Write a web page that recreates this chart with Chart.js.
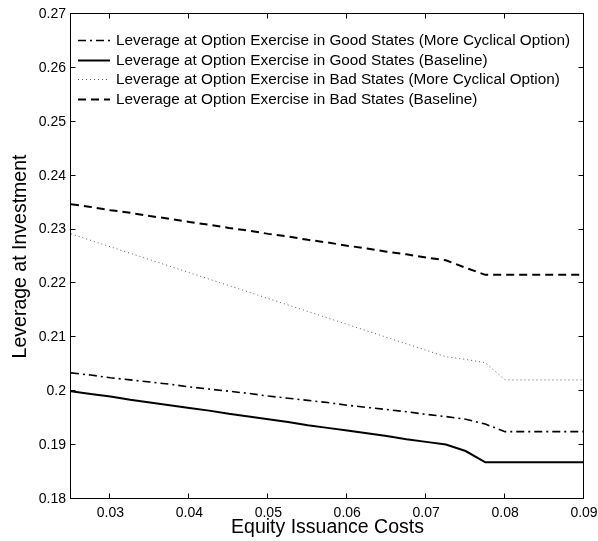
<!DOCTYPE html>
<html>
<head>
<meta charset="utf-8">
<script src="https://cdn.jsdelivr.net/npm/chart.js@4.4.1/dist/chart.umd.min.js"></script>
<style>
  html, body { margin: 0; padding: 0; background: #ffffff; }
  #wrap { width: 598px; height: 541px; }
</style>
</head>
<body>
<div id="wrap"><canvas id="c" width="598" height="541"></canvas></div>
<script>
// Equity issuance cost grid
const costs = [0.025, 0.0275, 0.03, 0.0325, 0.035, 0.0375, 0.04, 0.0425, 0.045, 0.0475,
               0.05, 0.0525, 0.055, 0.0575, 0.06, 0.0625, 0.065, 0.0675, 0.07, 0.0725,
               0.075, 0.0775, 0.08, 0.0825, 0.085, 0.0875, 0.09];

// Leverage at option exercise, good states, more cyclical option
const goodCyclical = [0.2034, 0.2030, 0.2025, 0.2021, 0.2017, 0.2013, 0.2008, 0.2004, 0.2000, 0.1996,
                      0.1991, 0.1987, 0.1983, 0.1979, 0.1974, 0.1970, 0.1966, 0.1962, 0.1957, 0.1953,
                      0.1948, 0.1939, 0.1925, 0.1925, 0.1925, 0.1925, 0.1925];
// Leverage at option exercise, good states, baseline
const goodBaseline = [0.2000, 0.1995, 0.1990, 0.1984, 0.1979, 0.1974, 0.1969, 0.1964, 0.1958, 0.1953,
                      0.1948, 0.1943, 0.1937, 0.1932, 0.1927, 0.1922, 0.1917, 0.1911, 0.1906, 0.1901,
                      0.1889, 0.1868, 0.1868, 0.1868, 0.1868, 0.1868, 0.1868];
// Leverage at option exercise, bad states, more cyclical option
const badCyclical = [0.2292, 0.2280, 0.2268, 0.2256, 0.2244, 0.2232, 0.2220, 0.2208, 0.2196, 0.2184,
                     0.2172, 0.2160, 0.2148, 0.2136, 0.2124, 0.2112, 0.2100, 0.2088, 0.2076, 0.2064,
                     0.2059, 0.2053, 0.2021, 0.2021, 0.2021, 0.2021, 0.2021];
// Leverage at option exercise, bad states, baseline
const badBaseline = [0.2347, 0.2342, 0.2336, 0.2331, 0.2325, 0.2320, 0.2314, 0.2309, 0.2303, 0.2298,
                     0.2292, 0.2287, 0.2281, 0.2276, 0.2270, 0.2265, 0.2259, 0.2254, 0.2248, 0.2243,
                     0.2229, 0.2216, 0.2216, 0.2216, 0.2216, 0.2216, 0.2216];

const seriesNames = [
  'Leverage at Option Exercise in Good States (More Cyclical Option)',
  'Leverage at Option Exercise in Good States (Baseline)',
  'Leverage at Option Exercise in Bad States (More Cyclical Option)',
  'Leverage at Option Exercise in Bad States (Baseline)'
];

const xTicks = [0.03, 0.04, 0.05, 0.06, 0.07, 0.08, 0.09];
const xTickLabels = ['0.03', '0.04', '0.05', '0.06', '0.07', '0.08', '0.09'];
const yTicks = [0.18, 0.19, 0.2, 0.21, 0.22, 0.23, 0.24, 0.25, 0.26, 0.27];
const yTickLabels = ['0.18', '0.19', '0.2', '0.21', '0.22', '0.23', '0.24', '0.25', '0.26', '0.27'];

const xTitle = 'Equity Issuance Costs';
const yTitle = 'Leverage at Investment';

const FONT = '"Liberation Sans", Arial, Helvetica, sans-serif';

function points(values) {
  return costs.map((c, i) => ({ x: c, y: values[i] }));
}

// Line styles per series
const styles = [
  { color: '#000000', width: 1.6, dash: [8, 4, 2, 4] },
  { color: '#000000', width: 2,   dash: [] },
  { color: '#5a5a5a', width: 1,   dash: [1, 3] },
  { color: '#000000', width: 2,   dash: [8, 5] }
];
const seriesValues = [goodCyclical, goodBaseline, badCyclical, badBaseline];

const datasets = seriesValues.map((vals, i) => ({
  label: seriesNames[i],
  data: points(vals),
  borderColor: styles[i].color,
  borderWidth: styles[i].width,
  borderDash: styles[i].dash,
  pointRadius: 0,
  fill: false,
  tension: 0
}));

// Box around the plot with inward tick marks on all four sides
const boxAndTicks = {
  id: 'boxAndTicks',
  afterDatasetsDraw(chart) {
    const { ctx, chartArea: a, scales: { x, y } } = chart;
    const L = a.left - 0.5, R = a.right - 0.5, T = a.top - 0.5, B = a.bottom - 0.5;
    ctx.save();
    ctx.strokeStyle = '#000';
    ctx.lineWidth = 1;
    ctx.setLineDash([]);
    ctx.beginPath();
    xTicks.forEach(v => {
      const px = Math.round(x.getPixelForValue(v)) - 0.5;
      ctx.moveTo(px, B); ctx.lineTo(px, B - 5);
      ctx.moveTo(px, T); ctx.lineTo(px, T + 5);
    });
    yTicks.forEach(v => {
      const py = Math.round(y.getPixelForValue(v)) - 0.5;
      ctx.moveTo(L, py); ctx.lineTo(L + 5, py);
      ctx.moveTo(R, py); ctx.lineTo(R - 5, py);
    });
    ctx.stroke();
    ctx.strokeRect(L, T, R - L, B - T);
    ctx.restore();
  }
};

// Legend drawn inside the plot, top-left
const innerLegend = {
  id: 'innerLegend',
  afterDraw(chart) {
    const { ctx } = chart;
    const x0 = 78, x1 = 110, tx = 116, y0 = 40, dy = 19.6;
    ctx.save();
    ctx.font = '15.3px ' + FONT;
    ctx.textBaseline = 'middle';
    ctx.textAlign = 'left';
    chart.data.datasets.forEach((ds, i) => {
      const yy = Math.round(y0 + i * dy) + 0.5;
      ctx.strokeStyle = ds.borderColor;
      ctx.lineWidth = ds.borderWidth;
      ctx.setLineDash(ds.borderDash);
      ctx.beginPath();
      ctx.moveTo(x0, yy); ctx.lineTo(x1, yy);
      ctx.stroke();
      ctx.setLineDash([]);
      ctx.fillStyle = '#000';
      ctx.fillText(ds.label, tx, yy);
    });
    ctx.restore();
  }
};

new Chart(document.getElementById('c'), {
  type: 'line',
  data: { datasets },
  options: {
    responsive: false,
    animation: false,
    devicePixelRatio: 1,
    layout: { padding: { left: 0, top: 14, right: 14, bottom: 0 } },
    plugins: { legend: { display: false }, tooltip: { enabled: false } },
    scales: {
      x: {
        type: 'linear',
        min: 0.025, max: 0.09,
        afterBuildTicks: s => { s.ticks = xTicks.map(v => ({ value: v })); },
        afterFit: s => { s.height = 42; s.paddingLeft = 0; s.paddingRight = 0; },
        grid: { display: false, drawTicks: false },
        border: { display: false },
        ticks: {
          padding: 6,
          color: '#000',
          font: { family: FONT, size: 14 },
          maxRotation: 0,
          callback: (v) => { const i = xTicks.findIndex(t => Math.abs(t - v) < 1e-9); return i >= 0 ? xTickLabels[i] : ''; }
        },
        title: {
          display: true, text: xTitle, color: '#000',
          font: { family: FONT, size: 19.5, lineHeight: 1.2 },
          padding: { top: 0, bottom: 2 }
        }
      },
      y: {
        type: 'linear',
        min: 0.18, max: 0.27,
        afterBuildTicks: s => { s.ticks = yTicks.map(v => ({ value: v })); },
        afterFit: s => { s.width = 71; s.paddingTop = 0; s.paddingBottom = 0; },
        grid: { display: false, drawTicks: false },
        border: { display: false },
        ticks: {
          padding: 5,
          color: '#000',
          font: { family: FONT, size: 14 },
          callback: (v) => { const i = yTicks.findIndex(t => Math.abs(t - v) < 1e-9); return i >= 0 ? yTickLabels[i] : ''; }
        },
        title: {
          display: true, text: yTitle, color: '#000',
          font: { family: FONT, size: 19.5, lineHeight: 1.2 },
          padding: { top: 9, bottom: 0 }
        }
      }
    }
  },
  plugins: [boxAndTicks, innerLegend]
});
</script>
</body>
</html>
